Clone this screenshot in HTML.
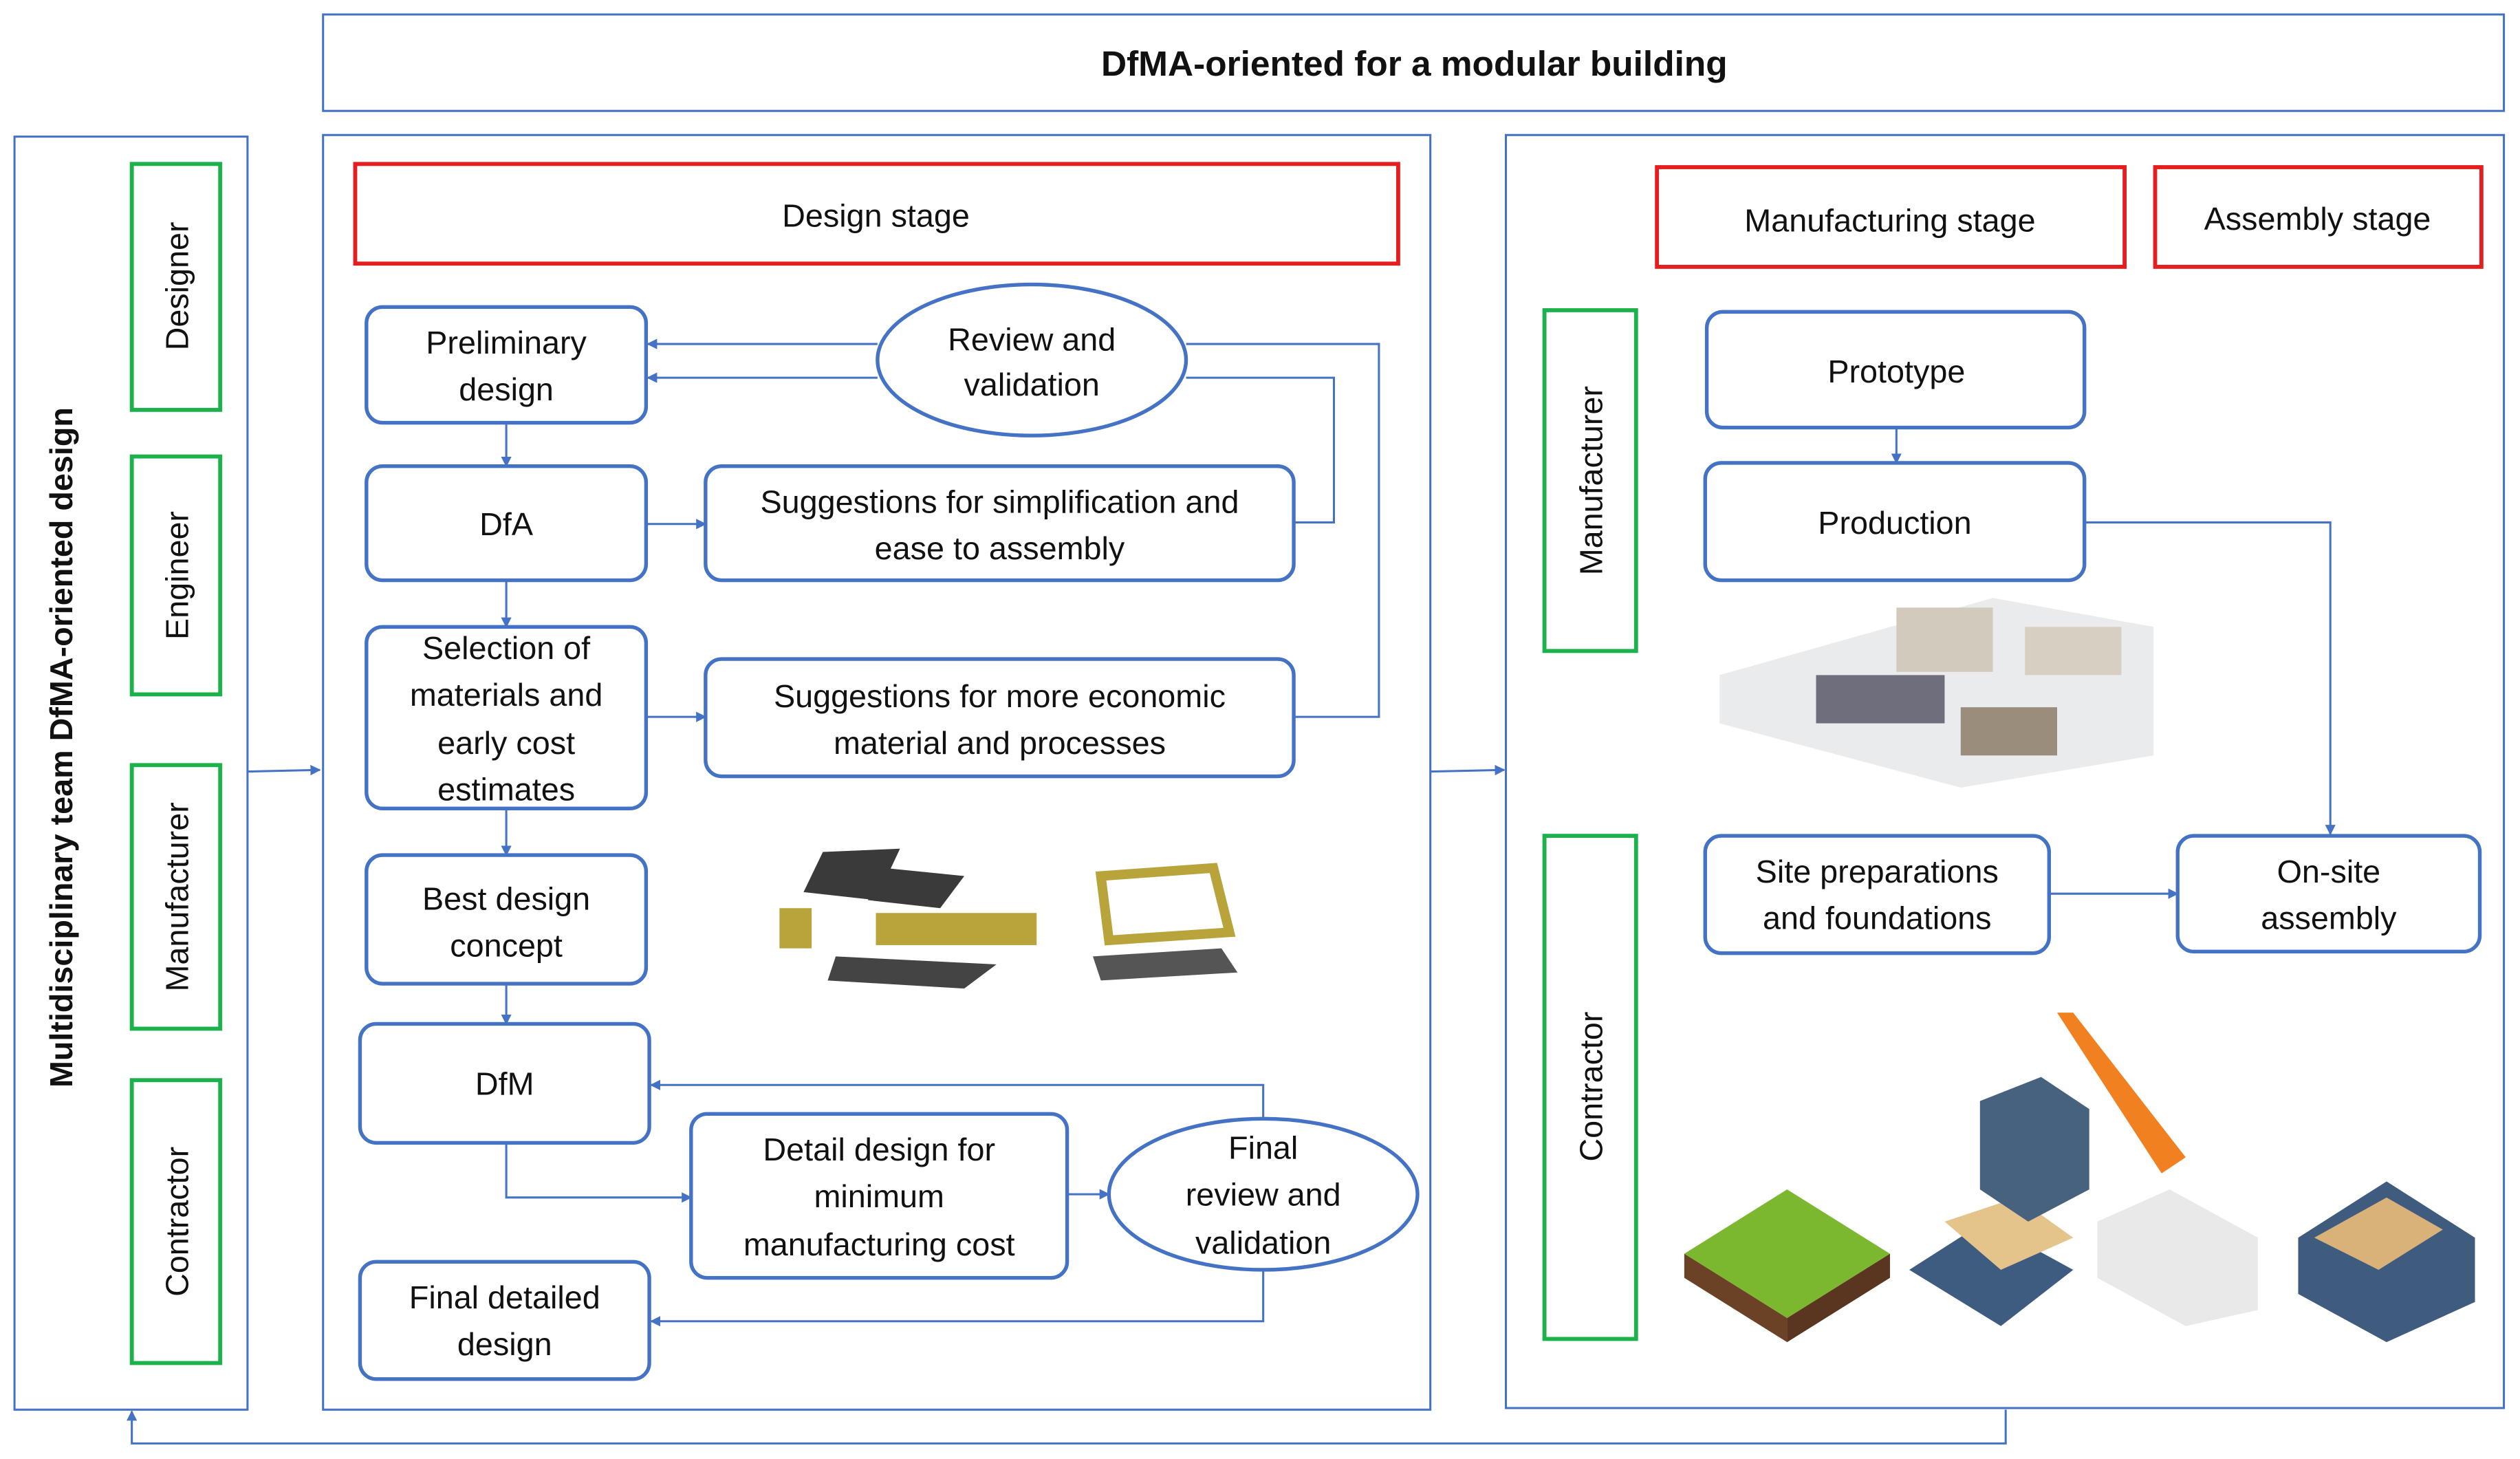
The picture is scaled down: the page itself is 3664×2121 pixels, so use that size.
<!DOCTYPE html>
<html><head><meta charset="utf-8"><style>
html,body{margin:0;padding:0;background:#fff}
svg{display:block}
text{font-family:"Liberation Sans",sans-serif;fill:#111}
</style></head><body>
<svg width="3664" height="2121" viewBox="0 0 1568 907.7" xmlns="http://www.w3.org/2000/svg">
<defs>
<marker id="a" viewBox="0 0 10 10" refX="9" refY="5" markerWidth="5" markerHeight="5" orient="auto-start-reverse"><path d="M0,0 L10,5 L0,10 z" fill="#4472C4"/></marker>
</defs>
<g fill="none" stroke="#4472C4" stroke-width="1.3">
<rect x="201" y="9" width="1357" height="60"/>
<rect x="9" y="85" width="145" height="792"/>
<rect x="201" y="84" width="689" height="793"/>
<rect x="937" y="84" width="621" height="792"/>
</g>
<g fill="none" stroke="#E41E1E" stroke-width="2.5">
<rect x="221" y="102" width="649" height="62"/>
<rect x="1031" y="104" width="291" height="62"/>
<rect x="1341" y="104" width="203" height="62"/>
</g>
<g fill="none" stroke="#1DB14B" stroke-width="2.5">
<rect x="82" y="102" width="55" height="153"/>
<rect x="82" y="284" width="55" height="148"/>
<rect x="82" y="476" width="55" height="164"/>
<rect x="82" y="672" width="55" height="176"/>
<rect x="961" y="193" width="57" height="212"/>
<rect x="961" y="520" width="57" height="313"/>
</g>
<g fill="#fff" stroke="#4472C4" stroke-width="2.3">
<rect x="228" y="191" width="174" height="72" rx="10"/>
<rect x="228" y="290" width="174" height="71" rx="10"/>
<rect x="228" y="390" width="174" height="113" rx="10"/>
<rect x="228" y="532" width="174" height="80" rx="10"/>
<rect x="224" y="637" width="180" height="74" rx="10"/>
<rect x="224" y="785" width="180" height="73" rx="10"/>
<rect x="439" y="290" width="366" height="71" rx="10"/>
<rect x="439" y="410" width="366" height="73" rx="10"/>
<rect x="430" y="693" width="234" height="102" rx="10"/>
<ellipse cx="642" cy="224" rx="96" ry="47"/>
<ellipse cx="786" cy="743" rx="96" ry="47"/>
<rect x="1062" y="194" width="235" height="72" rx="10"/>
<rect x="1061" y="288" width="236" height="73" rx="10"/>
<rect x="1061" y="520" width="214" height="73" rx="10"/>
<rect x="1355" y="520" width="188" height="72" rx="10"/>
</g>
<g fill="none" stroke="#4472C4" stroke-width="1.3">
<path d="M315,263V290" marker-end="url(#a)"/>
<path d="M315,361V390" marker-end="url(#a)"/>
<path d="M315,503V532" marker-end="url(#a)"/>
<path d="M315,612V637" marker-end="url(#a)"/>
<path d="M546,214H403" marker-end="url(#a)"/>
<path d="M546,235H403" marker-end="url(#a)"/>
<path d="M738,214H858V446H805"/>
<path d="M738,235H830V325H805"/>
<path d="M402,326H439" marker-end="url(#a)"/>
<path d="M402,446H439" marker-end="url(#a)"/>
<path d="M315,711V745H430" marker-end="url(#a)"/>
<path d="M664,743H690" marker-end="url(#a)"/>
<path d="M786,696V675H405" marker-end="url(#a)"/>
<path d="M786,790V822H405" marker-end="url(#a)"/>
<path d="M1180,266V288" marker-end="url(#a)"/>
<path d="M1297,325H1450V519" marker-end="url(#a)"/>
<path d="M1275,556H1355" marker-end="url(#a)"/>
<path d="M154,480L199,479" marker-end="url(#a)"/>
<path d="M890,480L936,479" marker-end="url(#a)"/>
<path d="M1248,877V898H82V878" marker-end="url(#a)"/>
</g>
<!-- images approximations -->
<g opacity="0.85">
<polygon points="1070,420 1240,372 1340,390 1340,470 1220,490 1070,450" fill="#e6e8ea"/>
<rect x="1130" y="420" width="80" height="30" fill="#556"/>
<rect x="1180" y="378" width="60" height="40" fill="#c9c1b2"/>
<rect x="1260" y="390" width="60" height="30" fill="#cfc7b8"/>
<rect x="1220" y="440" width="60" height="30" fill="#8a7a66"/>
</g>
<g>
<polygon points="512,530 560,528 545,560 500,555" fill="#3a3a3a"/><polygon points="550,540 600,545 585,565 540,560" fill="#3a3a3a"/>
<rect x="545" y="568" width="100" height="20" fill="#b8a43a"/>
<polygon points="520,595 620,600 600,615 515,610" fill="#444"/>
<rect x="485" y="565" width="20" height="25" fill="#b8a43a"/>
<polygon points="685,545 755,540 765,580 690,585" fill="none" stroke="#b8a43a" stroke-width="6"/>
<polygon points="680,595 760,590 770,605 685,610" fill="#555"/>
</g>
<g>
<polygon points="1048,780 1112,740 1176,780 1112,820" fill="#7cb82f"/>
<polygon points="1048,780 1112,820 1112,835 1048,795" fill="#6b4226"/>
<polygon points="1176,780 1112,820 1112,835 1176,795" fill="#5a3520"/>
<polygon points="1188,790 1235,760 1290,790 1245,825" fill="#3d5c80"/>
<polygon points="1210,760 1255,745 1290,770 1245,790" fill="#e5c48c"/>
<polygon points="1232,685 1270,670 1300,690 1300,740 1262,760 1232,740" fill="#47627f"/>
<polygon points="1280,630 1290,630 1360,720 1345,730" fill="#f08020"/>
<polygon points="1305,760 1350,740 1405,770 1405,815 1360,825 1305,795" fill="#e9e9ea"/>
<polygon points="1430,770 1485,735 1540,770 1540,810 1485,835 1430,805" fill="#3f5c7e"/>
<polygon points="1440,770 1485,745 1520,765 1480,790" fill="#d9b27a"/>
</g>
<g font-size="20" text-anchor="middle">
<text x="880" y="47" font-size="22" font-weight="bold">DfMA-oriented for a modular building</text>
<text transform="translate(45,465) rotate(-90)" font-size="20" font-weight="bold">Multidisciplinary team DfMA-oriented design</text>
<text transform="translate(117,178) rotate(-90)">Designer</text>
<text transform="translate(117,358) rotate(-90)">Engineer</text>
<text transform="translate(117,558) rotate(-90)">Manufacturer</text>
<text transform="translate(117,760) rotate(-90)">Contractor</text>
<text transform="translate(997,299) rotate(-90)">Manufacturer</text>
<text transform="translate(997,676) rotate(-90)">Contractor</text>
<text x="545" y="141">Design stage</text>
<text x="1176" y="144">Manufacturing stage</text>
<text x="1442" y="143">Assembly stage</text>
<text x="315" y="220">Preliminary</text><text x="315" y="249">design</text>
<text x="315" y="333">DfA</text>
<text x="315" y="410">Selection of</text><text x="315" y="439">materials and</text><text x="315" y="469">early cost</text><text x="315" y="498">estimates</text>
<text x="315" y="566">Best design</text><text x="315" y="595">concept</text>
<text x="314" y="681">DfM</text>
<text x="314" y="814">Final detailed</text><text x="314" y="843">design</text>
<text x="642" y="218">Review and</text><text x="642" y="246">validation</text>
<text x="622" y="319">Suggestions for simplification and</text><text x="622" y="348">ease to assembly</text>
<text x="622" y="440">Suggestions for more economic</text><text x="622" y="469">material and processes</text>
<text x="547" y="722">Detail design for</text><text x="547" y="751">minimum</text><text x="547" y="781">manufacturing cost</text>
<text x="786" y="721">Final</text><text x="786" y="750">review and</text><text x="786" y="780">validation</text>
<text x="1180" y="238">Prototype</text>
<text x="1179" y="332">Production</text>
<text x="1168" y="549">Site preparations</text><text x="1168" y="578">and foundations</text>
<text x="1449" y="549">On-site</text><text x="1449" y="578">assembly</text>
</g>
</svg>
</body></html>
